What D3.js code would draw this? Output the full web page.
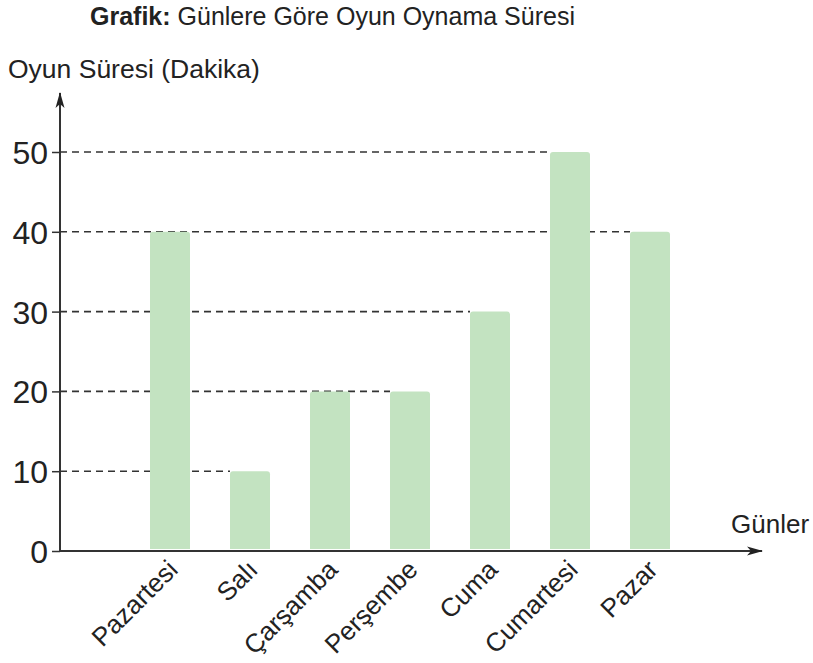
<!DOCTYPE html>
<html><head><meta charset="utf-8">
<script src="https://cdn.jsdelivr.net/npm/d3@7"></script>
<style>body{margin:0;background:#fff}text{font-family:"Liberation Sans",Arial,sans-serif;fill:#222}</style>
</head><body><svg id="c" width="813" height="663"></svg>
<script>
const days = ["Pazartesi","Salı","Çarşamba","Perşembe","Cuma","Cumartesi","Pazar"];
const minutes = [40,10,20,20,30,50,40];
const yTicks = [0,10,20,30,40,50];

const svg = d3.select("#c");
const x0 = 60, yZero = 551;
const x = d3.scaleBand().domain(days).range([130, 690]).paddingInner(0.5).paddingOuter(0.25);
const y = d3.scaleLinear().domain([0,50]).range([yZero, 152]);

svg.append("defs").append("marker").attr("id","arr").attr("viewBox","0 0 16 10")
  .attr("refX",15).attr("refY",5).attr("markerWidth",16).attr("markerHeight",10).attr("markerUnits","userSpaceOnUse")
  .attr("orient","auto").append("path").attr("d","M0,0.5 L16,5 L0,9.5 L4,5 Z").attr("fill","#222");

// dashed guide lines: from axis to left edge of last bar with that value
yTicks.filter(t=>t>0).forEach(t=>{
  let last = -1; minutes.forEach((v,i)=>{ if(v===t) last=i; });
  if(last<0) return;
  svg.append("line").attr("x1",x0).attr("x2",x(days[last])).attr("y1",y(t)).attr("y2",y(t))
    .attr("stroke","#333").attr("stroke-width",1.6).attr("stroke-dasharray","7,5");
});

// bars
svg.selectAll("path.bar").data(days).enter().append("path").attr("class","bar")
  .attr("fill","#c3e3c1")
  .attr("d",(d,i)=>{
    const bx=x(d), bw=x.bandwidth(), top=y(minutes[i]), bot=yZero-2, r=3;
    return `M${bx},${bot} L${bx},${top+r} Q${bx},${top} ${bx+r},${top} L${bx+bw-r},${top} Q${bx+bw},${top} ${bx+bw},${top+r} L${bx+bw},${bot} Z`;
  });

// y axis ticks and labels
const ya = d3.axisLeft(y).tickValues(yTicks).tickSize(8).tickPadding(4);
const gy = svg.append("g").attr("transform",`translate(${x0},0)`).call(ya);
gy.select(".domain").remove();
gy.selectAll("line").attr("stroke","#333").attr("stroke-width",1.5);
gy.selectAll("text").style("font-size","32px").attr("fill","#222").attr("dy","0.36em");

// axes lines
svg.append("line").attr("x1",x0).attr("x2",x0).attr("y1",yZero+1).attr("y2",93)
  .attr("stroke","#333").attr("stroke-width",2).attr("marker-end","url(#arr)");
svg.append("line").attr("x1",x0-1).attr("x2",762).attr("y1",yZero).attr("y2",yZero)
  .attr("stroke","#333").attr("stroke-width",2).attr("marker-end","url(#arr)");

// x labels
svg.selectAll("text.xl").data(days).enter().append("text").attr("class","xl")
  .attr("transform",d=>`translate(${x(d)+x.bandwidth()/2-4},${yZero+7}) rotate(-45)`)
  .attr("text-anchor","end").attr("dy","0.72em").style("font-size","26px").text(d=>d);

// titles
const t = svg.append("text").attr("x",90).attr("y",25).style("font-size","25px");
t.append("tspan").attr("font-weight","bold").text("Grafik:");
t.append("tspan").text(" Günlere Göre Oyun Oynama Süresi");
svg.append("text").attr("x",8).attr("y",78).style("font-size","26.5px").text("Oyun Süresi (Dakika)");
svg.append("text").attr("x",731).attr("y",533).style("font-size","26px").text("Günler");
</script></body></html>
